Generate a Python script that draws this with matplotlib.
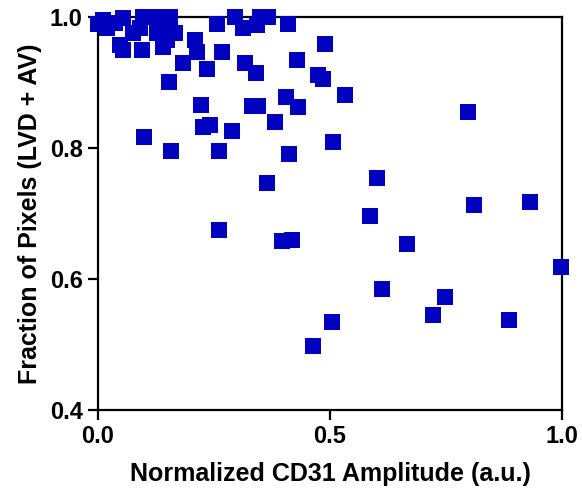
import matplotlib
matplotlib.use("Agg")
import matplotlib.pyplot as plt

# Normalized CD31 amplitude (x) vs fraction of pixels LVD + AV (y)
cd31_amp = [
    0.011, 0.000, 0.037, 0.054, 0.097, 0.127, 0.155, 0.019, 0.091, 0.155,
    0.166, 0.127, 0.075, 0.047, 0.054, 0.095, 0.140, 0.149,
    0.256, 0.295, 0.313, 0.349, 0.366, 0.342, 0.409, 0.489, 0.209, 0.213,
    0.267, 0.183, 0.234, 0.317, 0.340, 0.428, 0.475, 0.486, 0.154, 0.532,
    0.223, 0.331, 0.345, 0.405, 0.430, 0.798, 0.241, 0.227, 0.288, 0.381,
    0.099, 0.157, 0.261, 0.412, 0.506, 0.364, 0.602, 0.586, 0.811, 0.931,
    0.261, 0.396, 0.419, 0.667, 0.998, 0.612, 0.748, 0.721, 0.886, 0.504,
    0.464,
]
frac_pixels = [
    0.995, 0.990, 0.991, 0.998, 1.000, 1.000, 1.000, 0.983, 0.983, 0.985,
    0.976, 0.976, 0.976, 0.957, 0.950, 0.950, 0.954, 0.965,
    0.990, 1.000, 0.983, 1.000, 1.000, 0.988, 0.989, 0.959, 0.965, 0.947,
    0.947, 0.930, 0.920, 0.929, 0.915, 0.934, 0.911, 0.906, 0.901, 0.881,
    0.866, 0.864, 0.864, 0.878, 0.863, 0.855, 0.835, 0.832, 0.826, 0.839,
    0.816, 0.796, 0.796, 0.791, 0.809, 0.747, 0.754, 0.696, 0.713, 0.718,
    0.675, 0.658, 0.660, 0.654, 0.619, 0.584, 0.572, 0.545, 0.538, 0.534,
    0.498,
]

plt.rcParams["font.family"] = ["Liberation Sans", "DejaVu Sans"]
plt.rcParams["font.weight"] = "bold"

fig = plt.figure(figsize=(5.82, 4.99), dpi=100)
ax = fig.add_axes([0.1684, 0.1784, 0.7972, 0.7876])

ax.scatter(cd31_amp, frac_pixels, marker="s", s=145, color="#0000BF",
           linewidths=0, clip_on=False, zorder=3)

ax.set_xlim(0, 1.0)
ax.set_ylim(0.4, 1.0)
ax.set_xticks([0.0, 0.5, 1.0])
ax.set_yticks([0.4, 0.6, 0.8, 1.0])
ax.set_xticklabels(["0.0", "0.5", "1.0"])
ax.set_yticklabels(["0.4", "0.6", "0.8", "1.0"])

for sp in ax.spines.values():
    sp.set_linewidth(1.6)
ax.tick_params(direction="out", length=7, width=1.6, labelsize=17, pad=4)

ax.set_xlabel("Normalized CD31 Amplitude (a.u.)", fontsize=18,
              fontweight="bold", labelpad=10)
ax.set_ylabel("Fraction of Pixels (LVD + AV)", fontsize=18,
              fontweight="bold", labelpad=6)

fig.savefig("out.png", dpi=100)
